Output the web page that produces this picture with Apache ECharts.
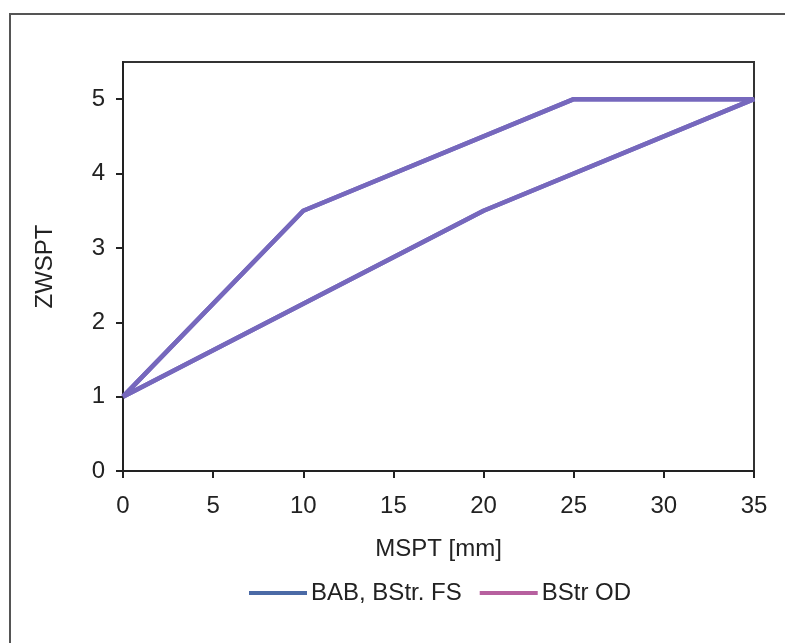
<!DOCTYPE html>
<html>
<head>
<meta charset="utf-8">
<script src="https://cdn.jsdelivr.net/npm/echarts@6/dist/echarts.min.js"></script>
<style>
  html, body { margin: 0; padding: 0; background: #fff; }
  #chart { width: 785px; height: 643px; }
</style>
</head>
<body>
<div id="chart"></div>
<script>
// Series names and values
const seriesNames = ['BAB, BStr. FS', 'BStr OD'];
const legendColors = ['#4b6aa6', '#b7609f'];
const lineColor = '#7668bd';

// Boundary polylines (MSPT [mm], ZWSPT)
const upperMspt = [0, 10, 25, 35];
const upperZwspt = [1, 3.5, 5, 5];
const lowerMspt = [0, 20, 35];
const lowerZwspt = [1, 3.5, 5];

const xTicks = { min: 0, max: 35, interval: 5 };
const yTicks = { min: 0, max: 5.5, interval: 1 };

function pairs(xs, ys) { return xs.map((x, i) => [x, ys[i]]); }

// Both series trace the same envelope: upper bound, then back along the lower bound
const envelope = pairs(upperMspt, upperZwspt)
  .concat(pairs(lowerMspt, lowerZwspt).reverse());

const chart = echarts.init(document.getElementById('chart'), null, { renderer: 'canvas' });

const axisText = { color: '#222', fontFamily: 'Liberation Sans, Arial, sans-serif', fontSize: 24 };

chart.setOption({
  animation: false,
  backgroundColor: '#fff',
  graphic: [{
    type: 'rect',
    shape: { x: 10, y: 14, width: 800, height: 700 },
    style: { fill: 'none', stroke: '#555', lineWidth: 2 },
    silent: true
  }],
  grid: {
    left: 123, right: 31, top: 62, bottom: 172,
    show: true, borderColor: '#333', borderWidth: 2, backgroundColor: 'transparent'
  },
  legend: {
    top: 576,
    left: 244,
    itemWidth: 58,
    itemHeight: 4,
    itemGap: 18,
    icon: 'rect',
    textStyle: Object.assign({}, axisText, { padding: [0, 0, 0, -1] }),
    data: seriesNames.map((n, i) => ({ name: n, itemStyle: { color: legendColors[i] } }))
  },
  xAxis: {
    type: 'value',
    min: xTicks.min, max: xTicks.max, interval: xTicks.interval,
    name: 'MSPT [mm]', nameLocation: 'middle', nameGap: 66,
    nameTextStyle: axisText,
    axisLine: { show: true, lineStyle: { color: '#222', width: 2 } },
    axisTick: { show: true, length: 7, lineStyle: { color: '#222', width: 2 } },
    axisLabel: Object.assign({ margin: 23 }, axisText),
    splitLine: { show: false }
  },
  yAxis: {
    type: 'value',
    min: yTicks.min, max: yTicks.max, interval: yTicks.interval,
    name: 'ZWSPT', nameLocation: 'middle', nameGap: 66,
    nameTextStyle: axisText,
    axisLine: { show: true, lineStyle: { color: '#222', width: 2 } },
    axisTick: { show: true, length: 7, lineStyle: { color: '#222', width: 2 } },
    axisLabel: Object.assign({ margin: 18, showMaxLabel: false }, axisText),
    splitLine: { show: false }
  },
  series: seriesNames.map((n) => ({
    name: n,
    type: 'line',
    data: envelope,
    showSymbol: false,
    symbol: 'none',
    itemStyle: { color: lineColor },
    lineStyle: { color: lineColor, width: 4.5 }
  }))
});
</script>
</body>
</html>
